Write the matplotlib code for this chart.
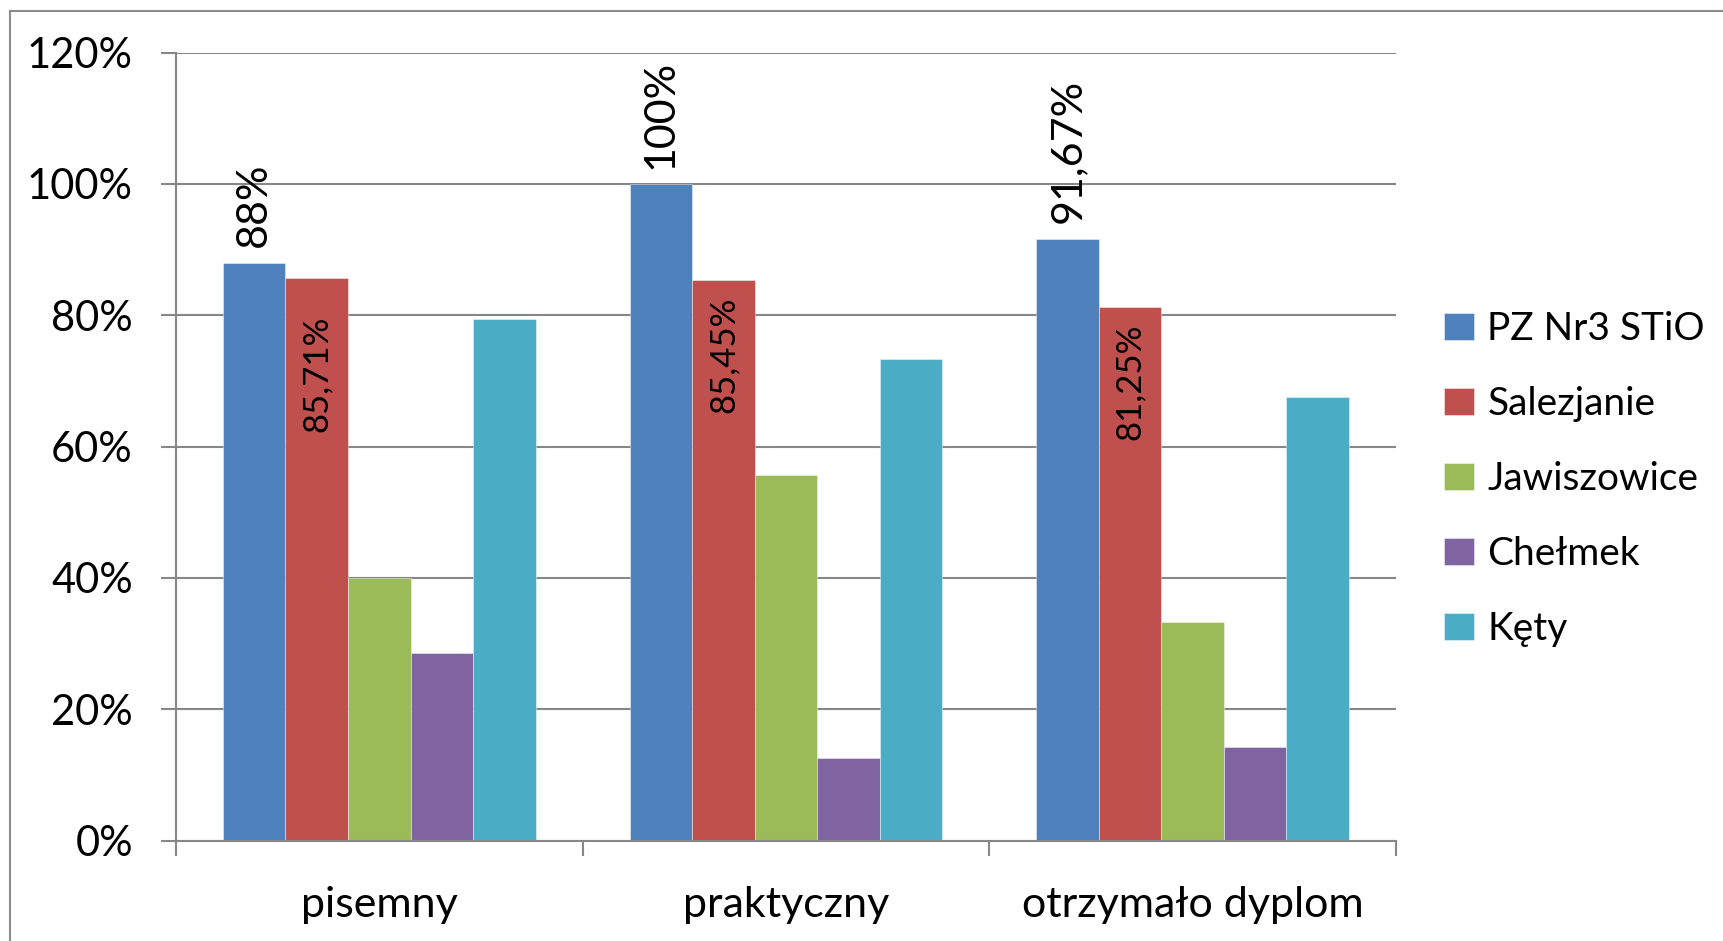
import numpy as np
import matplotlib
matplotlib.use("Agg")
import matplotlib.pyplot as plt
from matplotlib.patches import Rectangle
from matplotlib.ticker import FuncFormatter, FixedLocator

plt.rcParams['font.family'] = ['Lato', 'DejaVu Sans']

# dane
categories = ["pisemny", "praktyczny", "otrzymało dyplom"]
series = ["PZ Nr3 STiO", "Salezjanie", "Jawiszowice", "Chełmek", "Kęty"]
pz_nr3 = [88, 100, 91.67]
salezjanie = [85.71, 85.45, 81.25]
jawiszowice = [40, 55.6, 33.3]
chelmek = [28.6, 12.5, 14.3]
kety = [79.4, 73.3, 67.6]
colors = ["#4F81BD", "#C0504D", "#9BBB59", "#8064A2", "#4BACC6"]
grey = "#878787"

values = [pz_nr3, salezjanie, jawiszowice, chelmek, kety]

fig = plt.figure(figsize=(17.24, 9.41), dpi=100)
ax = fig.add_axes([0.1021, 0.1068, 0.7076, 0.8372])

x = np.arange(len(categories))
w = 1 / 6.5
bars = []
for i, (name, vals) in enumerate(zip(series, values)):
    b = ax.bar(x + (i - 2) * w, vals, w, color=colors[i], label=name,
               edgecolor=(1, 1, 1, 0.5), linewidth=0.6)
    bars.append(b)

def fmt(v):
    return f"{v:g}".replace(".", ",") + "%"

# etykiety danych
for r in bars[0]:
    ax.annotate(fmt(r.get_height()), (r.get_x() + r.get_width() / 2, r.get_height()),
                xytext=(0, 11), textcoords="offset points", rotation=90,
                ha="center", va="bottom", fontsize=31)
red_offsets = [-27, -12, -12]
for r, off in zip(bars[1], red_offsets):
    ax.annotate(fmt(r.get_height()), (r.get_x() + r.get_width() / 2, r.get_height()),
                xytext=(0, off), textcoords="offset points", rotation=90,
                ha="center", va="top", fontsize=25)

ax.set_xlim(-0.5, 2.5)
ax.set_ylim(0, 120)
ax.set_yticks(np.arange(0, 121, 20))
ax.yaxis.set_major_formatter(FuncFormatter(lambda v, p: f"{v:.0f}%"))
ax.set_xticks(x)
ax.set_xticklabels(categories)
ax.xaxis.set_minor_locator(FixedLocator([-0.5, 0.5, 1.5, 2.5]))
ax.tick_params(axis="x", which="major", length=0, pad=33, labelsize=31)
ax.tick_params(axis="x", which="minor", length=11, width=1.5, color=grey, direction="out")
ax.tick_params(axis="y", length=11, width=1.5, color=grey, pad=20, labelsize=30)

ax.grid(axis="y", color=grey, linewidth=1.5)
ax.set_axisbelow(True)
for s in ["top", "right"]:
    ax.spines[s].set_visible(False)
for s in ["left", "bottom"]:
    ax.spines[s].set_color(grey)
    ax.spines[s].set_linewidth(1.5)

fig.legend(loc="center left", bbox_to_anchor=(0.8376, 0.491), frameon=False,
           fontsize=28, handlelength=0.78, handleheight=0.7, handletextpad=0.33,
           labelspacing=1.0, borderpad=0, borderaxespad=0)

# ramka wykresu
fig.add_artist(Rectangle((10 / 1724, -0.1), 1.2, (941 - 11) / 941 + 0.1,
                         transform=fig.transFigure, fill=False,
                         edgecolor="#8c8c8c", linewidth=1.5))

fig.savefig("out.png", dpi=100)
